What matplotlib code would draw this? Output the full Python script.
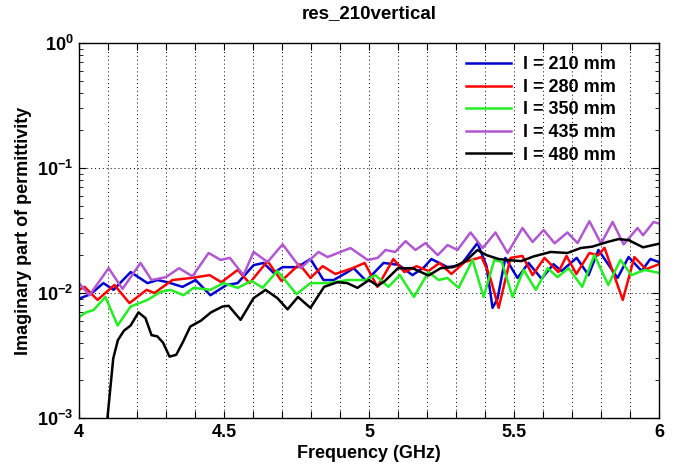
import numpy as np
import matplotlib
matplotlib.use("Agg")
import matplotlib.pyplot as plt
from matplotlib.ticker import FixedLocator, FuncFormatter, LogLocator, NullFormatter

plt.rcParams['font.family'] = ['Liberation Sans', 'DejaVu Sans']
plt.rcParams['font.weight'] = 'bold'
plt.rcParams['mathtext.fontset'] = 'custom'
plt.rcParams['mathtext.rm'] = 'Liberation Sans'
plt.rcParams['mathtext.bf'] = 'Liberation Sans:bold'

# imaginary permittivity for each sample length (frequency in GHz)
f_210 = [4.000, 4.040, 4.084, 4.119, 4.178, 4.236, 4.271, 4.305, 4.357, 4.402, 4.453, 4.509,
         4.547, 4.602, 4.636, 4.671, 4.702, 4.753, 4.798, 4.843, 4.878, 4.926, 4.947, 4.990,
         5.050, 5.102, 5.150, 5.190, 5.215, 5.271, 5.316, 5.374, 5.405, 5.426, 5.443, 5.470,
         5.512, 5.550, 5.595, 5.636, 5.664, 5.716, 5.757, 5.791, 5.857, 5.895, 5.940, 5.970, 6.000]
e_210 = [0.0090, 0.0098, 0.0120, 0.0106, 0.0147, 0.0120, 0.0127, 0.0122, 0.0112, 0.0127, 0.0096, 0.0116,
         0.0120, 0.0167, 0.0174, 0.0145, 0.0161, 0.0161, 0.0187, 0.0127, 0.0127, 0.0147, 0.0158, 0.0125,
         0.0174, 0.0168, 0.0139, 0.0161, 0.0187, 0.0161, 0.0167, 0.0251, 0.0165, 0.0076, 0.0090, 0.0191,
         0.0132, 0.0174, 0.0130, 0.0170, 0.0150, 0.0191, 0.0139, 0.0221, 0.0132, 0.0194, 0.0150, 0.0187, 0.0177]

f_280 = [4.000, 4.019, 4.064, 4.122, 4.174, 4.233, 4.260, 4.322, 4.388, 4.450, 4.491, 4.547,
         4.588, 4.650, 4.698, 4.760, 4.798, 4.840, 4.884, 4.943, 4.985, 5.029, 5.084, 5.122,
         5.164, 5.205, 5.243, 5.284, 5.330, 5.388, 5.415, 5.447, 5.488, 5.529, 5.564, 5.605,
         5.653, 5.681, 5.715, 5.760, 5.790, 5.812, 5.840, 5.875, 5.915, 5.955, 6.000]
e_280 = [0.0106, 0.0112, 0.0088, 0.0116, 0.0083, 0.0106, 0.0100, 0.0127, 0.0132, 0.0139, 0.0122, 0.0153,
         0.0120, 0.0180, 0.0125, 0.0170, 0.0132, 0.0164, 0.0142, 0.0158, 0.0174, 0.0112, 0.0187, 0.0147,
         0.0164, 0.0150, 0.0174, 0.0142, 0.0177, 0.0194, 0.0140, 0.0076, 0.0191, 0.0198, 0.0139, 0.0191,
         0.0147, 0.0198, 0.0142, 0.0209, 0.0200, 0.0230, 0.0150, 0.0088, 0.0194, 0.0155, 0.0170]

f_350 = [4.000, 4.024, 4.050, 4.091, 4.133, 4.178, 4.236, 4.281, 4.316, 4.360, 4.395, 4.453,
         4.498, 4.547, 4.595, 4.633, 4.684, 4.750, 4.798, 4.860, 4.926, 4.990, 5.022, 5.067,
         5.106, 5.155, 5.205, 5.240, 5.270, 5.309, 5.357, 5.395, 5.432, 5.458, 5.495, 5.533,
         5.575, 5.616, 5.650, 5.688, 5.735, 5.777, 5.825, 5.867, 5.905, 5.950, 6.000]
e_350 = [0.0064, 0.0070, 0.0073, 0.0093, 0.0055, 0.0078, 0.0088, 0.0102, 0.0106, 0.0096, 0.0110, 0.0106,
         0.0120, 0.0110, 0.0125, 0.0110, 0.0150, 0.0098, 0.0120, 0.0120, 0.0127, 0.0127, 0.0139, 0.0112,
         0.0139, 0.0093, 0.0147, 0.0127, 0.0132, 0.0110, 0.0184, 0.0093, 0.0184, 0.0177, 0.0093, 0.0153,
         0.0106, 0.0158, 0.0134, 0.0158, 0.0112, 0.0201, 0.0116, 0.0184, 0.0139, 0.0153, 0.0145]

f_435 = [4.000, 4.036, 4.102, 4.150, 4.212, 4.250, 4.300, 4.345, 4.391, 4.447, 4.488, 4.520,
         4.567, 4.602, 4.650, 4.702, 4.764, 4.826, 4.857, 4.936, 4.995, 5.030, 5.057, 5.090,
         5.126, 5.160, 5.195, 5.237, 5.271, 5.305, 5.350, 5.392, 5.436, 5.478, 5.529, 5.564,
         5.602, 5.640, 5.684, 5.719, 5.760, 5.800, 5.840, 5.878, 5.926, 5.945, 5.981, 6.000]
e_435 = [0.0120, 0.0096, 0.0158, 0.0108, 0.0174, 0.0127, 0.0134, 0.0158, 0.0136, 0.0209, 0.0184, 0.0191,
         0.0139, 0.0213, 0.0177, 0.0245, 0.0158, 0.0213, 0.0194, 0.0229, 0.0184, 0.0191, 0.0221, 0.0213,
         0.0260, 0.0221, 0.0251, 0.0201, 0.0242, 0.0221, 0.0305, 0.0229, 0.0305, 0.0209, 0.0331, 0.0256,
         0.0319, 0.0250, 0.0305, 0.0251, 0.0375, 0.0249, 0.0370, 0.0245, 0.0331, 0.0290, 0.0370, 0.0360]

f_480 = [4.097, 4.118, 4.134, 4.155, 4.178, 4.205, 4.229, 4.250, 4.270, 4.290, 4.312, 4.335,
         4.357, 4.384, 4.420, 4.455, 4.495, 4.516, 4.557, 4.602, 4.643, 4.684, 4.719, 4.755,
         4.798, 4.845, 4.891, 4.925, 4.960, 5.000, 5.030, 5.055, 5.100, 5.150, 5.205, 5.247,
         5.290, 5.333, 5.374, 5.405, 5.447, 5.498, 5.525, 5.567, 5.626, 5.684, 5.730, 5.770,
         5.822, 5.860, 5.895, 5.945, 5.990, 6.000]
e_480 = [0.00095, 0.0030, 0.0042, 0.0050, 0.0055, 0.0070, 0.0063, 0.0046, 0.0045, 0.0040, 0.0031, 0.0032,
         0.0040, 0.0054, 0.0060, 0.0070, 0.0078, 0.0079, 0.0061, 0.0091, 0.0106, 0.0091, 0.0074, 0.0093,
         0.0076, 0.0112, 0.0122, 0.0120, 0.0110, 0.0127, 0.0114, 0.0125, 0.0158, 0.0158, 0.0138, 0.0158,
         0.0161, 0.0180, 0.0221, 0.0201, 0.0187, 0.0182, 0.0180, 0.0196, 0.0213, 0.0209, 0.0229, 0.0235,
         0.0256, 0.0270, 0.0265, 0.0232, 0.0245, 0.0248]

series = [
    (f_210, e_210, '#0000d0', 'l = 210 mm'),
    (f_280, e_280, '#ff0000', 'l = 280 mm'),
    (f_350, e_350, '#22ee22', 'l = 350 mm'),
    (f_435, e_435, '#b257d2', 'l = 435 mm'),
    (f_480, e_480, '#000000', 'l = 480 mm'),
]

fig = plt.figure(figsize=(6.89, 4.67), dpi=100)
ax = fig.add_axes([0.1147, 0.1049, 0.8418, 0.8030])

for f, e, c, lab in series:
    ax.plot(f, e, color=c, lw=1.8, label=lab, solid_joinstyle='round')

ax.set_yscale('log')
ax.set_xlim(4, 6)
ax.set_ylim(1e-3, 1)

# ticks every 0.1 GHz, labelled every 0.5 GHz
xt = np.round(np.arange(4, 6.001, 0.1), 1)
ax.xaxis.set_major_locator(FixedLocator(xt))
ax.xaxis.set_major_formatter(FuncFormatter(
    lambda v, p: ('%g' % v) if abs(v * 2 - round(v * 2)) < 1e-6 else ''))
ax.yaxis.set_major_locator(LogLocator(base=10, numticks=10))
ax.yaxis.set_major_formatter(FuncFormatter(lambda v, p: r'$\mathbf{10^{%d}}$' % round(np.log10(v))))
ax.yaxis.set_minor_locator(LogLocator(base=10, subs=np.arange(2, 10), numticks=10))
ax.yaxis.set_minor_formatter(NullFormatter())

ax.tick_params(which='both', direction='in', top=True, right=True, labelsize=13)
ax.tick_params(which='major', length=5, pad=4)
ax.tick_params(which='minor', length=3)
ax.grid(True, which='major', color='black', linestyle=(0, (1, 3)), linewidth=0.7)
for s in ax.spines.values():
    s.set_linewidth(1.0)

ax.set_title('res_210vertical', fontsize=13.5, fontweight='bold', pad=18)
ax.set_xlabel('Frequency (GHz)', fontsize=13, fontweight='bold', labelpad=3)
ax.set_ylabel('Imaginary part of permittivity', fontsize=13, fontweight='bold', labelpad=4)

leg = ax.legend(loc='upper left', frameon=False, fontsize=13, handlelength=2.5,
                handletextpad=0.65, labelspacing=0.31, bbox_to_anchor=(0.639, 1.008))

fig.savefig('out.png', dpi=100)
